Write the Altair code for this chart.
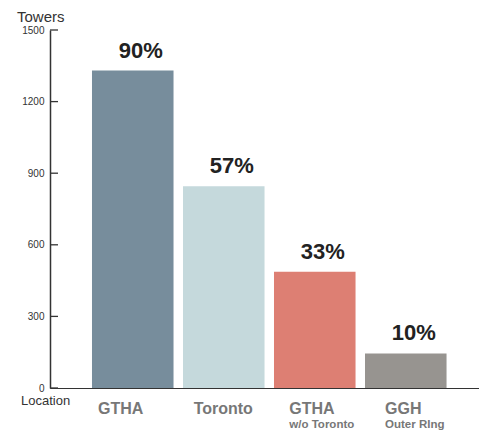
import altair as alt
import pandas as pd

locations = ["GTHA", "Toronto", "GTHA w/o Toronto", "GGH Outer Ring"]
main_labels = ["GTHA", "Toronto", "GTHA", "GGH"]
sub_labels = ["", "", "w/o Toronto", "Outer RIng"]
towers = [1330, 845, 487, 145]
percents = ["90%", "57%", "33%", "10%"]
colors = ["#778d9c", "#c5d9dc", "#dd7f73", "#979490"]
y_ticks = [0, 300, 600, 900, 1200, 1500]

FONT = "Liberation Sans"

df = pd.DataFrame({
    "loc": locations,
    "main": main_labels,
    "sub": sub_labels,
    "towers": towers,
    "pct": percents,
})
ticks_df = pd.DataFrame({"t": y_ticks})

xscale = alt.Scale(type="band", domain=locations, paddingInner=0.104,
                   paddingOuter=0.409, align=0.564)
yscale = alt.Scale(domain=[0, 1500], nice=False, zero=True)

bars = alt.Chart(df).mark_bar().encode(
    x=alt.X("loc:N", scale=xscale, sort=locations,
            axis=alt.Axis(labels=False, ticks=False, title=None, domain=True,
                          domainColor="#333333", domainWidth=1.2)),
    y=alt.Y("towers:Q", scale=yscale,
            axis=alt.Axis(values=y_ticks, title=None, grid=False, ticks=False,
                          format="d",
                          labelFont=FONT, labelFontSize=10, labelColor="#333333",
                          labelPadding=6, domainColor="#333333", domainWidth=1.5)),
    color=alt.Color("loc:N", scale=alt.Scale(domain=locations, range=colors), legend=None),
)

pct = alt.Chart(df).mark_text(
    font=FONT, fontSize=22, fontWeight="bold", color="#222222",
    baseline="alphabetic", dy=-13, dx=8
).encode(
    x=alt.X("loc:N", scale=xscale, sort=locations),
    y=alt.Y("towers:Q", scale=yscale),
    text="pct:N",
)

ticks = alt.Chart(ticks_df).mark_rule(color="#333333", strokeWidth=1.3).encode(
    y=alt.Y("t:Q", scale=yscale),
    x=alt.value(0),
    x2=alt.value(8),
)

lab_scale = alt.Scale(type="point", domain=locations, padding=0.742, align=0.338)

main_text = alt.Chart(df).mark_text(
    font=FONT, fontSize=16, fontWeight="bold", color="#777777",
    align="left", baseline="alphabetic"
).encode(
    x=alt.X("loc:N", scale=lab_scale, sort=locations, axis=None),
    y=alt.value(384),
    text="main:N",
)

sub_text = alt.Chart(df).mark_text(
    font=FONT, fontSize=11.5, fontWeight="bold", color="#777777",
    align="left", baseline="alphabetic"
).encode(
    x=alt.X("loc:N", scale=lab_scale, sort=locations, axis=None),
    y=alt.value(398),
    text="sub:N",
)

towers_title = alt.Chart(pd.DataFrame({"t": ["Towers"]})).mark_text(
    font=FONT, fontSize=15, color="#333333", align="left", baseline="alphabetic"
).encode(x=alt.value(-33), y=alt.value(-8), text="t:N")

loc_title = alt.Chart(pd.DataFrame({"t": ["Location"]})).mark_text(
    font=FONT, fontSize=13, color="#333333", align="left", baseline="alphabetic"
).encode(x=alt.value(-29), y=alt.value(375), text="t:N")

main_layer = alt.layer(bars, pct, ticks)
label_layer = alt.layer(main_text, sub_text)

chart = alt.layer(main_layer, label_layer, towers_title, loc_title).resolve_scale(
    x="independent"
).properties(
    width=429, height=358,
    autosize=alt.AutoSizeParams(type="none"),
    padding={"left": 42, "top": 22, "right": 0, "bottom": 43},
).configure_view(stroke=None).configure_axis(labelFont=FONT)

chart.save("out.html", embed_options={"renderer": "svg", "actions": False})
